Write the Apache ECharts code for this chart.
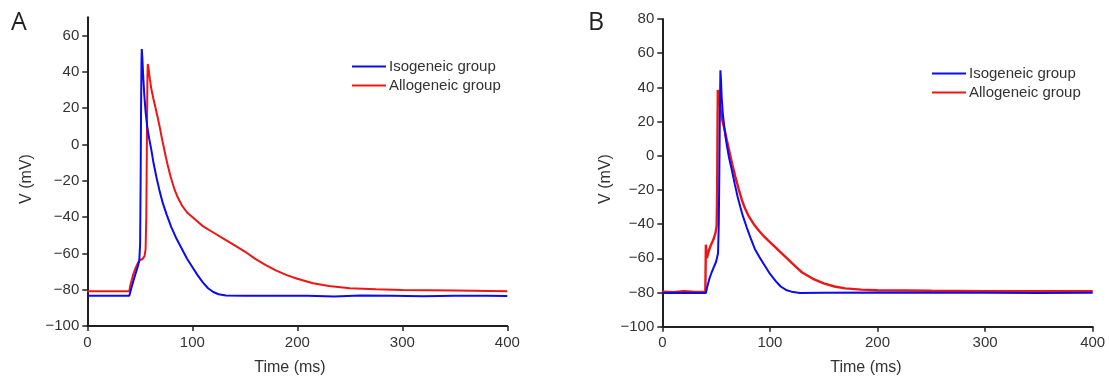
<!DOCTYPE html>
<html>
<head>
<meta charset="utf-8">
<script src="https://cdn.jsdelivr.net/npm/echarts@6/dist/echarts.min.js"></script>
<style>
html,body{margin:0;padding:0;background:#fff;}
#c{width:1109px;height:383px;}
</style>
</head>
<body>
<div id="c"></div>
<script>
// ---- data (time ms, membrane potential mV) ----
const xTicks = [0, 100, 200, 300, 400];
const yTicksA = [-100, -80, -60, -40, -20, 0, 20, 40, 60];
const yTicksB = [-100, -80, -60, -40, -20, 0, 20, 40, 60, 80];
const seriesNames = ['Isogeneic group', 'Allogeneic group'];

const isoA = [
  [0,-83.3],[20,-83.4],[40,-83.3],[42,-79],[45,-73],[48,-67.5],[49.5,-64],[50.3,-55],[50.8,-20],
  [51.2,20],[51.6,45],[51.9,52.5],[52.4,48],[53.2,38],[54.2,28],[55.5,18],[57,10],[59,3],
  [61,-3],[63,-10],[66,-18.5],[69,-26],[72,-32.5],[75.5,-38.5],[80,-45.5],[85,-52],[90,-57.5],
  [95,-63],[100,-67.5],[105,-72],[110,-76],[115,-79.2],[120,-81.3],[125,-82.5],[132,-83.2],
  [150,-83.4],[180,-83.3],[210,-83.4],[235,-83.8],[260,-83.2],[290,-83.4],[320,-83.6],
  [350,-83.3],[380,-83.4],[400,-83.5]
];
const alloA = [
  [0,-80.8],[20,-80.8],[40,-80.8],[41,-77.5],[43.5,-72],[46,-68],[48.5,-65],[50.5,-63.5],
  [52.5,-63.2],[54.5,-61.5],[55.5,-58],[56.2,-40],[56.6,-10],[57,20],[57.3,38],[57.6,44.3],
  [58.3,42],[59.7,35.5],[61,30.5],[63,25],[65,20],[67,15],[69,9.5],[71,3.5],[73,-2],[75,-7.5],
  [77,-12.5],[79,-17],[81,-21],[83.5,-25.5],[86,-29],[90,-33.5],[95,-37.5],[100,-40],
  [105,-42.5],[110,-45],[120,-48.5],[130,-52],[140,-55.5],[150,-59],[160,-63],[170,-66.5],
  [180,-69.5],[190,-72],[200,-74],[215,-76.5],[230,-78],[250,-79.2],[275,-79.8],[300,-80.2],
  [350,-80.5],[400,-80.9]
];
const isoB = [
  [0,-80.3],[20,-80.2],[40.5,-80.3],[42,-76],[44,-71.5],[46,-68],[48,-65],[50,-62],[51.8,-57],
  [52.5,-40],[53,-10],[53.5,25],[54,50],[54.5,45],[55.2,34],[56.2,25],[57.3,18.8],[58.5,12],
  [60,6],[62,-1],[64.5,-8],[67.5,-17],[70,-24],[72.5,-30],[75,-35.5],[78.5,-42],[82,-48],
  [86,-54.5],[90,-59],[95,-64],[100,-69],[105,-73],[110,-76.5],[115,-78.5],[120,-79.5],
  [128,-80.3],[150,-80.2],[200,-80],[250,-80.2],[300,-80.2],[350,-80.3],[400,-80.2]
];
const alloB = [
  [0,-79.5],[10,-79.8],[20,-79.3],[30,-79.7],[40,-79.5],[40.5,-52],[41.5,-60],[43,-56],
  [45,-52.5],[47.5,-49],[49.5,-45],[50.5,-41],[51,-20],[51.3,15],[51.6,38.5],[52.5,38],
  [53.3,32],[54.5,25],[56,20],[58,15],[60,9],[62.5,2],[65,-5],[68,-12.5],[71,-19.5],
  [74,-26],[77,-31],[80,-35],[85,-40],[90,-44],[95,-47.5],[100,-50.5],[105,-53.5],[110,-56.5],
  [115,-59.5],[120,-62.5],[125,-65.5],[130,-68.3],[140,-72],[150,-74.7],[160,-76.5],
  [170,-77.6],[185,-78.3],[200,-78.7],[250,-79],[300,-79.2],[350,-79.2],[400,-79.3]
];

// ---- chart ----
const BLUE = '#0b0bf2';
const RED = '#f01515';
const AXIS = '#231f20';
const TXT = '#333333';
const FONT = 'Liberation Sans, Arial, sans-serif';

function xAxisCfg(gi) {
  return {
    type: 'value', gridIndex: gi, min: xTicks[0], max: xTicks[xTicks.length - 1], interval: 100,
    axisLine: { show: true, onZero: false, lineStyle: { color: AXIS, width: 2 } },
    axisTick: { show: true, length: 5, lineStyle: { color: AXIS, width: 1.5 } },
    axisLabel: { color: TXT, fontSize: 15, fontFamily: FONT, margin: 9 },
    splitLine: { show: false }
  };
}
function yAxisCfg(gi, ticks, max) {
  return {
    type: 'value', gridIndex: gi, min: ticks[0], max: max,
    axisLine: { show: true, onZero: false, lineStyle: { color: AXIS, width: 2 } },
    axisTick: { show: true, length: 5, customValues: ticks, lineStyle: { color: AXIS, width: 1.5 } },
    axisLabel: { color: TXT, fontSize: 15, fontFamily: FONT, margin: 8, customValues: ticks,
      formatter: v => (v < 0 ? '\u2212' + Math.abs(v) : String(v)) },
    splitLine: { show: false }
  };
}
function lineSeries(name, data, color, gi, w) {
  return {
    name: name, type: 'line', xAxisIndex: gi, yAxisIndex: gi, data: data,
    showSymbol: false, symbol: 'none', smooth: false, animation: false,
    lineStyle: { color: color, width: w || 2 }, itemStyle: { color: color }
  };
}
function legendCfg(left, top) {
  return {
    data: [seriesNames[0], seriesNames[1]], orient: 'vertical', left: left, top: top,
    icon: 'rect', itemWidth: 34, itemHeight: 2, itemGap: 4,
    textStyle: { color: TXT, fontSize: 15, fontFamily: FONT, padding: [0, 0, 0, -2] },
    selectedMode: false
  };
}
function text(str, x, y, size, rot, align) {
  return {
    type: 'text', x: x, y: y, rotation: rot || 0,
    style: { text: str, fill: TXT, fontSize: size, fontFamily: FONT,
      align: align || 'center', verticalAlign: 'middle' }
  };
}

const chart = echarts.init(document.getElementById('c'), null, { renderer: 'canvas' });
chart.setOption({
  animation: false,
  backgroundColor: '#fff',
  grid: [
    { left: 87.3, top: 17.3, width: 420, height: 308.7 },
    { left: 662.3, top: 19, width: 430.4, height: 307.7 }
  ],
  xAxis: [xAxisCfg(0), xAxisCfg(1)],
  yAxis: [yAxisCfg(0, yTicksA, 70), yAxisCfg(1, yTicksB, 80)],
  legend: [legendCfg(347, 54), legendCfg(927, 61)],
  series: [
    lineSeries(seriesNames[1], alloA, RED, 0),
    lineSeries(seriesNames[0], isoA, BLUE, 0),
    lineSeries(seriesNames[1], alloB, RED, 1, 2.4),
    lineSeries(seriesNames[0], isoB, BLUE, 1)
  ],
  graphic: [
    { type: 'text', left: 11, top: 10, style: { text: 'A', fill: '#222', fontSize: 25, fontFamily: 'Open Sans, sans-serif' } },
    { type: 'text', left: 588, top: 10, style: { text: 'B', fill: '#222', fontSize: 25, fontFamily: 'Open Sans, sans-serif' } },
    text('V (mV)', 26.5, 179, 16, Math.PI / 2),
    text('V (mV)', 605.5, 179, 16, Math.PI / 2),
    text('Time (ms)', 290, 368, 16, 0),
    text('Time (ms)', 866, 368, 16, 0)
  ]
});
</script>
</body>
</html>
